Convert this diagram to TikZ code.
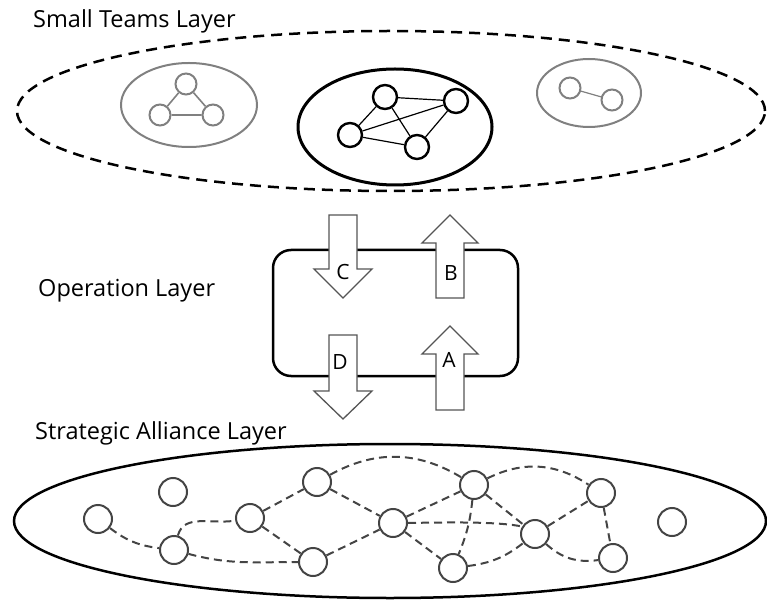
\documentclass[tikz,border=0pt]{standalone}
\usepackage{fontspec}
\setmainfont{Open Sans}
\usetikzlibrary{shapes.geometric}
\definecolor{lgray}{HTML}{808080}
\definecolor{dgray}{HTML}{444444}
\definecolor{agray}{HTML}{555555}
\tikzset{
  layertext/.style={anchor=base west, inner sep=0pt, font=\fontsize{23.5}{27}\selectfont},
  arrowlabel/.style={inner sep=0pt, font=\fontsize{21}{24}\selectfont},
  tnode/.style={circle, draw=lgray, line width=2pt, minimum size=21pt, inner sep=0pt},
  mnode/.style={circle, draw=black, line width=2.4pt, minimum size=24pt, inner sep=0pt},
  snode/.style={circle, draw=dgray, line width=2pt, minimum size=28pt, inner sep=0pt},
  tedge/.style={draw=lgray, line width=1.6pt},
  medge/.style={draw=black, line width=1.2pt},
  sedge/.style={draw=dgray, line width=2pt, dash pattern=on 8pt off 5pt},
  bigarrow/.style={draw=agray, fill=white, line width=1.3pt, line join=miter},
}
\begin{document}
\begin{tikzpicture}[x=1pt,y=1pt]
\useasboundingbox (0,0) rectangle (767,600);
% ---------- Small Teams Layer ----------
\node[layertext] (ttl) at (33,572) {Small Teams Layer};
\draw[black, line width=2.5pt, dash pattern=on 11pt off 7pt] (391,489) ellipse [x radius=374, y radius=80];
% left team
\draw[lgray, line width=2pt] (189,495) ellipse [x radius=68, y radius=42];
\node[tnode] (t1) at (186,516) {};
\node[tnode] (t2) at (160,485) {};
\node[tnode] (t3) at (213,485) {};
\path[tedge] (t1) -- (t2) (t1) -- (t3) (t2) -- (t3);
% middle team
\draw[black, line width=3pt] (395,473) ellipse [x radius=97, y radius=58];
\node[mnode] (m1) at (385,503) {};
\node[mnode] (m2) at (456,499) {};
\node[mnode] (m3) at (350,465) {};
\node[mnode] (m4) at (417,453) {};
\path[medge] (m1) -- (m2) (m1) -- (m3) (m1) -- (m4) (m3) -- (m2) (m3) -- (m4) (m4) -- (m2);
% right team
\draw[lgray, line width=2pt] (589,507) ellipse [x radius=52, y radius=34];
\node[tnode] (r1) at (570,512) {};
\node[tnode] (r2) at (612,500) {};
\path[tedge, line width=1.2pt] (r1) -- (r2);
% ---------- Operation Layer ----------
\node[layertext] (otl) at (38,303) {Operation Layer};
\draw[black, line width=2.5pt, rounded corners=18pt] (273,224) rectangle (518,350);
% C down arrow
\draw[bigarrow] (329,385) -- (357,385) -- (357,331) -- (372,331) -- (343,302) -- (314,331) -- (329,331) -- cycle;
% B up arrow
\draw[bigarrow] (436,302) -- (464,302) -- (464,357) -- (478,357) -- (450,385) -- (422,357) -- (436,357) -- cycle;
% D down arrow
\draw[bigarrow] (329,265) -- (357,265) -- (357,209) -- (372,209) -- (343,181) -- (314,209) -- (329,209) -- cycle;
% A up arrow
\draw[bigarrow] (436,190) -- (464,190) -- (464,246) -- (478,246) -- (450,274) -- (422,246) -- (436,246) -- cycle;
\node[arrowlabel] (lc) at (343,328) {C};
\node[arrowlabel] (lb) at (451,327) {B};
\node[arrowlabel] (ld) at (340,238) {D};
\node[arrowlabel] (la) at (449,240) {A};
% ---------- Strategic Alliance Layer ----------
\node[layertext] (stl) at (35,161) {Strategic Alliance Layer};
\draw[black, line width=2.5pt] (390,79) ellipse [x radius=376, y radius=77];
\node[snode] (s1) at (98,81) {};
\node[snode] (s2) at (173,108) {};
\node[snode] (s3) at (174,50) {};
\node[snode] (s4) at (250,82) {};
\node[snode] (s5) at (317,118) {};
\node[snode] (s6) at (313,38) {};
\node[snode] (s7) at (393,77) {};
\node[snode] (s8) at (474,115) {};
\node[snode] (s9) at (453,32) {};
\node[snode] (s10) at (535,66) {};
\node[snode] (s11) at (601,107) {};
\node[snode] (s12) at (613,42) {};
\node[snode] (s13) at (672,78) {};
\path[sedge]
  (s1) to[bend right=15] (s3)
  (s3) to[out=75,in=190] (s4)
  (s3) to[out=-15,in=180] (s6)
  (s4) -- (s5)
  (s4) -- (s6)
  (s5) -- (s7)
  (s5) to[bend left=30] (s8)
  (s6) -- (s7)
  (s7) -- (s8)
  (s7.0) .. controls (460,78) and (500,78) .. (s10.150)
  (s7) -- (s9)
  (s8) to[bend left=8] (s9)
  (s8) -- (s10)
  (s8) to[bend left=30] (s11)
  (s9) to[bend right=15] (s10)
  (s10) -- (s11)
  (s10) to[bend right=25] (s12)
  (s11) -- (s12);
\end{tikzpicture}
\end{document}
